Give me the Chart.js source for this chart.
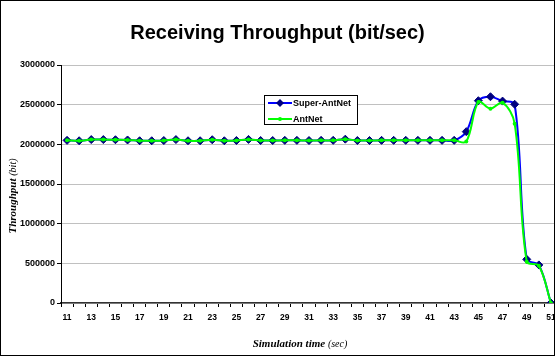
<!DOCTYPE html>
<html>
<head>
<meta charset="utf-8">
<script src="https://cdn.jsdelivr.net/npm/chart.js@4/dist/chart.umd.min.js"></script>
<style>
  html, body { margin: 0; padding: 0; background: #fff; }
  #wrap { width: 555px; height: 356px; position: relative; }
</style>
</head>
<body>
<div id="wrap"><canvas id="myChart" width="555" height="356"></canvas></div>
<script>
// data
const times = [11, 12, 13, 14, 15, 16, 17, 18, 19, 20, 21, 22, 23, 24, 25, 26, 27, 28, 29, 30,
  31, 32, 33, 34, 35, 36, 37, 38, 39, 40, 41, 42, 43, 44, 45, 46, 47, 48, 49, 50, 51];

const superAntNet = [2050000, 2045000, 2060000, 2060000, 2058000, 2055000, 2045000, 2045000, 2048000, 2060000,
  2045000, 2045000, 2058000, 2045000, 2048000, 2062000, 2048000, 2048000, 2050000, 2050000,
  2048000, 2050000, 2050000, 2065000, 2048000, 2048000, 2050000, 2050000, 2050000, 2050000,
  2050000, 2050000, 2050000, 2160000, 2550000, 2600000, 2545000, 2505000, 550000, 480000, 0];

const antNet = [2050000, 2045000, 2060000, 2060000, 2058000, 2055000, 2045000, 2045000, 2048000, 2060000,
  2045000, 2045000, 2058000, 2045000, 2048000, 2062000, 2048000, 2048000, 2050000, 2050000,
  2048000, 2050000, 2050000, 2065000, 2048000, 2048000, 2050000, 2050000, 2050000, 2050000,
  2050000, 2050000, 2050000, 2035000, 2535000, 2450000, 2525000, 2260000, 520000, 470000, 0];

const yTicks = [0, 500000, 1000000, 1500000, 2000000, 2500000, 3000000];

// draws a run of differently styled text pieces centred on x
function drawMixed(ctx, parts, x, y) {
  let total = 0;
  parts.forEach(function(p) { ctx.font = p[0]; total += ctx.measureText(p[1]).width; });
  let cx = x - total / 2;
  ctx.textAlign = 'left';
  ctx.textBaseline = 'middle';
  parts.forEach(function(p) {
    ctx.font = p[0];
    ctx.fillText(p[1], cx, y);
    cx += ctx.measureText(p[1]).width;
  });
}

const extras = {
  id: 'extras',
  // the plot runs right up to the frame, past where chart.js wants to stop
  afterLayout(chart) {
    const x = chart.scales.x;
    const right = chart.width + 2;
    chart.chartArea.right = right;
    chart.chartArea.width = right - chart.chartArea.left;
    x.right = right;
    x.width = right - x.left;
    x.configure();
  },
  afterDraw(chart) {
    const ctx = chart.ctx;
    ctx.save();
    ctx.fillStyle = '#000';

    // outer frame
    ctx.strokeStyle = '#000';
    ctx.lineWidth = 1;
    ctx.strokeRect(0.5, 0.5, chart.width - 1, chart.height - 1);

    // axis titles
    drawMixed(ctx, [['bold italic 11px "Liberation Serif"', 'Simulation time '],
                    ['italic 10px "Liberation Serif"', '(sec)']], 300, 344);
    ctx.save();
    ctx.translate(13, 196);
    ctx.rotate(-Math.PI / 2);
    drawMixed(ctx, [['bold italic 11px "Liberation Serif"', 'Throughput '],
                    ['italic 10px "Liberation Serif"', '(bit)']], 0, 0);
    ctx.restore();

    // legend box
    const bx = 264, by = 95, bw = 93, bh = 29;
    ctx.fillStyle = '#fff';
    ctx.fillRect(bx, by, bw, bh);
    ctx.strokeStyle = '#000';
    ctx.strokeRect(bx + 0.5, by + 0.5, bw, bh);
    const rows = [103, 119];
    chart.data.datasets.forEach(function(ds, i) {
      const y = rows[i];
      ctx.strokeStyle = ds.borderColor;
      ctx.lineWidth = 2;
      ctx.beginPath();
      ctx.moveTo(268, y);
      ctx.lineTo(292, y);
      ctx.stroke();
      ctx.fillStyle = ds.pointBackgroundColor;
      ctx.beginPath();
      if (ds.pointStyle === 'rectRot') {
        const r = ds.pointRadius;
        ctx.moveTo(280, y - r); ctx.lineTo(280 + r, y); ctx.lineTo(280, y + r); ctx.lineTo(280 - r, y);
      } else {
        ctx.arc(280, y, ds.pointRadius, 0, Math.PI * 2);
      }
      ctx.closePath();
      ctx.fill();
      ctx.fillStyle = '#000';
      ctx.font = 'bold 9px "Liberation Sans"';
      ctx.textAlign = 'left';
      ctx.textBaseline = 'middle';
      ctx.fillText(ds.label, 293, y + 0.5);
    });
    ctx.restore();
  }
};

const ctx = document.getElementById('myChart').getContext('2d');

let myChart = new Chart(ctx, {
  type: 'line',
  data: {
    labels: times,
    datasets: [{
      label: 'Super-AntNet',
      data: superAntNet,
      order: 1,
      borderColor: '#0000ff',
      borderWidth: 2,
      pointStyle: 'rectRot',
      pointRadius: 4,
      pointBackgroundColor: '#000080',
      pointBorderColor: '#000080',
      pointBorderWidth: 1,
      tension: 0.35,
      fill: false
    }, {
      label: 'AntNet',
      data: antNet,
      order: 0,
      borderColor: '#00ff00',
      borderWidth: 2,
      pointStyle: 'circle',
      pointRadius: 2,
      pointBackgroundColor: '#00ff00',
      pointBorderColor: '#00ff00',
      pointBorderWidth: 0,
      tension: 0.35,
      fill: false
    }]
  },
  options: {
    responsive: false,
    animation: false,
    devicePixelRatio: 1,
    layout: { padding: 0 },
    plugins: {
      legend: { display: false },
      tooltip: { enabled: false },
      title: {
        display: true,
        text: 'Receiving Throughput (bit/sec)',
        color: '#000',
        font: { family: '"Liberation Sans"', size: 20, weight: 'bold' },
        padding: { top: 21, bottom: 20 }
      }
    },
    scales: {
      x: {
        type: 'category',
        offset: true,
        afterFit: function(scale) { scale.height = 53; },
        grid: { offset: true, drawOnChartArea: false, drawTicks: true, tickLength: 4, color: '#000' },
        border: { color: '#333', width: 1.5 },
        ticks: {
          autoSkip: false,
          maxRotation: 0,
          padding: 6,
          color: '#000',
          font: { family: '"Liberation Sans"', size: 8.5, weight: 'bold' },
          callback: function(v, i) { return i % 2 === 0 ? times[i] : ''; }
        }
      },
      y: {
        min: yTicks[0],
        max: yTicks[yTicks.length - 1],
        afterFit: function(scale) { scale.width = 61; },
        afterBuildTicks: function(scale) { scale.ticks = yTicks.map(function(v) { return { value: v }; }); },
        grid: { color: '#c0c0c0', tickColor: '#000', tickLength: 4 },
        border: { color: '#000', width: 1 },
        ticks: {
          padding: 2,
          color: '#000',
          font: { family: '"Liberation Sans"', size: 9, weight: 'bold' },
          callback: function(v) { return String(v); }
        }
      }
    }
  },
  plugins: [extras]
});
</script>
</body>
</html>
